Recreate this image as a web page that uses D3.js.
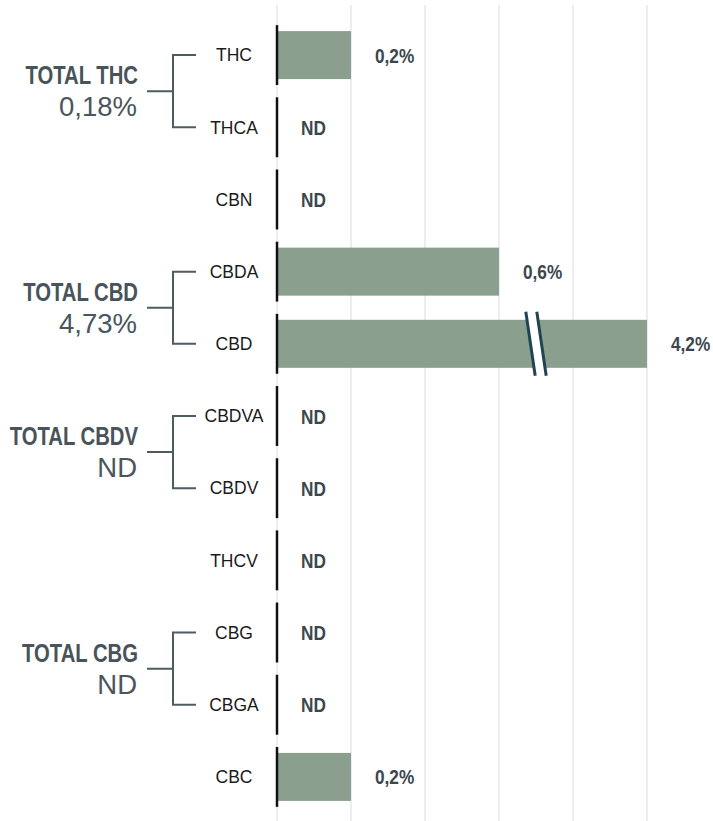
<!DOCTYPE html>
<html>
<head>
<meta charset="utf-8">
<script src="https://cdn.jsdelivr.net/npm/d3@7"></script>
<style>
  html, body { margin: 0; padding: 0; background: #fff; }
  svg { display: block; }
</style>
</head>
<body>
<div id="chart"></div>
<script>
// ---- data ----
const categories = ["THC", "THCA", "CBN", "CBDA", "CBD", "CBDVA", "CBDV", "THCV", "CBG", "CBGA", "CBC"];
const values = [0.2, null, null, 0.6, 4.2, null, null, null, null, null, 0.2]; // % (null = ND)
const groupNames = ["TOTAL THC", "TOTAL CBD", "TOTAL CBDV", "TOTAL CBG"];
const groupTotals = [0.18, 4.73, null, null];
const groupFirst = ["THC", "CBDA", "CBDVA", "CBG"];
const groupLast = ["THCA", "CBD", "CBDV", "CBGA"];
const xTicks = [0, 0.2, 0.4, 0.6, 0.8, 1.0];
const axisMax = 1.0;     // bars above this are shown broken
const breakAt = 0.7;     // position of the break marks

// ---- layout ----
const W = 713, H = 821;
const svg = d3.select("#chart").append("svg").attr("width", W).attr("height", H);

const x = d3.scaleLinear().domain([0, axisMax]).range([277, 647]);
const y = d3.scaleBand().domain(categories).range([19, 813]).padding(0);
const barH = y.bandwidth() * 0.665;
const segH = y.bandwidth() * 0.83;
const cy = c => y(c) + y.bandwidth() / 2;

const fmt1 = v => v == null ? "ND" : d3.format(".1f")(v).replace(".", ",") + "%";
const fmt2 = v => v == null ? "ND" : d3.format(".2f")(v).replace(".", ",") + "%";
const condensed = "'Liberation Sans', Arial, sans-serif";

// gridlines
svg.append("g").selectAll("line").data(xTicks).join("line")
  .attr("x1", d => x(d)).attr("x2", d => x(d))
  .attr("y1", 5).attr("y2", H)
  .attr("stroke", "#e1e1e1").attr("stroke-width", 1.2);

// bars
svg.append("g").selectAll("rect").data(categories.map((c, i) => ({c, v: values[i]})).filter(d => d.v != null))
  .join("rect")
  .attr("x", x(0))
  .attr("y", d => cy(d.c) - barH / 2)
  .attr("width", d => x(Math.min(d.v, axisMax)) - x(0))
  .attr("height", barH)
  .attr("fill", "#8b9f8f");

// break marks
categories.forEach((c, i) => {
  if (values[i] != null && values[i] > axisMax) {
    const bx = x(breakAt), top = cy(c) - 32, bot = cy(c) + 32, sl = 4.7, gap = 5.5;
    svg.append("path")
      .attr("d", `M${bx - gap - sl},${top} L${bx + gap - sl},${top} L${bx + gap + sl},${bot} L${bx - gap + sl},${bot} Z`)
      .attr("fill", "#fff");
    [-gap, gap].forEach(o => {
      svg.append("line")
        .attr("x1", bx + o - sl).attr("y1", top)
        .attr("x2", bx + o + sl).attr("y2", bot)
        .attr("stroke", "#1f4650").attr("stroke-width", 3);
    });
  }
});

// axis segments
svg.append("g").selectAll("line").data(categories).join("line")
  .attr("x1", x(0)).attr("x2", x(0))
  .attr("y1", d => cy(d) - segH / 2).attr("y2", d => cy(d) + segH / 2)
  .attr("stroke", "#111").attr("stroke-width", 2.5);

// category labels
svg.append("g").selectAll("text").data(categories).join("text")
  .attr("x", 234).attr("y", d => cy(d))
  .attr("dy", "0.36em")
  .attr("text-anchor", "middle")
  .attr("font-family", "'Liberation Sans', Arial, sans-serif")
  .attr("font-size", 17.5)
  .attr("fill", "#1b1b1b")
  .text(d => d);

// value labels
svg.append("g").selectAll("text").data(categories.map((c, i) => ({c, v: values[i]}))).join("text")
  .attr("transform", d => `translate(${x(d.v == null ? 0 : Math.min(d.v, axisMax)) + 24},${cy(d.c)}) scale(0.82,1)`)
  .attr("dy", "0.36em")
  .attr("font-family", condensed)
  .attr("font-weight", "bold")
  .attr("font-size", 21)
  .attr("fill", "#3c474d")
  .text(d => fmt1(d.v));

// group brackets and labels
const bracketColor = "#4e5b61";
groupNames.forEach((g, i) => {
  const y0 = cy(groupFirst[i]), y1 = cy(groupLast[i]), ym = (y0 + y1) / 2;
  const gg = svg.append("g");
  gg.append("path")
    .attr("d", `M196,${y0} H173 V${y1} H196 M173,${ym} H147`)
    .attr("fill", "none").attr("stroke", bracketColor).attr("stroke-width", 2);
  gg.append("text")
    .attr("transform", `translate(138,${ym - 7}) scale(0.78,1)`)
    .attr("text-anchor", "end")
    .attr("font-family", condensed)
    .attr("font-weight", "bold")
    .attr("font-size", 26)
    .attr("fill", "#48535a")
    .text(g);
  gg.append("text")
    .attr("x", 137).attr("y", ym + 25)
    .attr("text-anchor", "end")
    .attr("font-family", "'Liberation Sans', Arial, sans-serif")
    .attr("font-size", 27.5)
    .attr("fill", "#4a555c")
    .text(fmt2(groupTotals[i]));
});
</script>
</body>
</html>
